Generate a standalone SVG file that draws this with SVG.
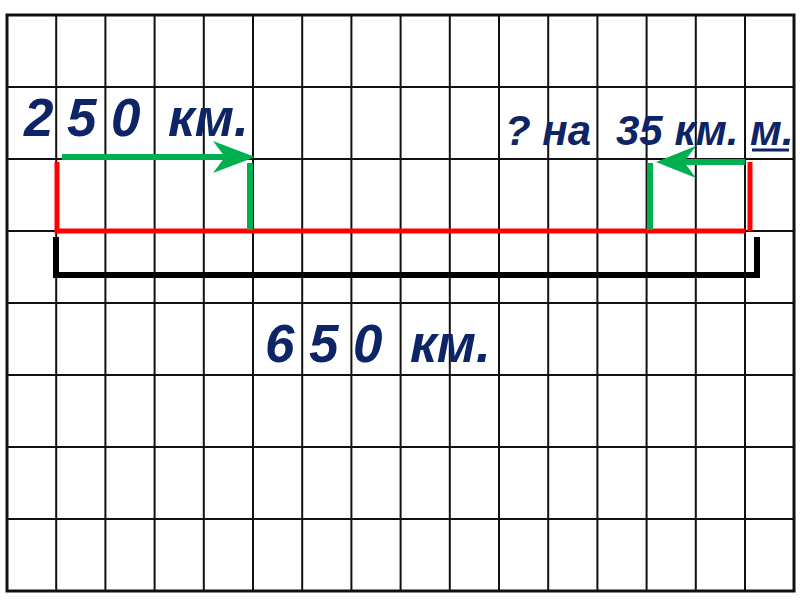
<svg xmlns="http://www.w3.org/2000/svg" width="800" height="600" viewBox="0 0 800 600">
<style>
.grid{stroke:#111;stroke-width:2;fill:none}
.border{stroke:#111;stroke-width:3;fill:none}
.red{stroke:#ff0000;stroke-width:5;fill:none}
.green{stroke:#00b050;stroke-width:6;fill:none}
.gfill{fill:#00b050}
.black{stroke:#000;stroke-width:6;fill:none}
.lbl{font-family:"Liberation Sans",Arial,sans-serif;font-weight:bold;font-style:italic;fill:#0d2566}
</style>
<rect width="800" height="600" fill="#fff"/>
<g id="grid">
<path class="grid" d="M56.2 15V591M105.4 15V591M154.6 15V591M203.8 15V591M253 15V591M302.2 15V591M351.4 15V591M400.6 15V591M449.8 15V591M499 15V591M548.2 15V591M597.4 15V591M646.6 15V591M695.8 15V591M745 15V591M7 87H794M7 159H794M7 231H794M7 303H794M7 375H794M7 447H794M7 519H794"/>
<rect class="border" x="7" y="15" width="787" height="576"/>
</g>
<g id="connectors">
<path class="red" d="M57 162V231H745"/>
<path class="red" d="M750 162V231"/>
<path class="green" d="M250 163V230"/>
<path class="green" d="M650 163V230"/>
<path class="green" d="M62 157H232"/>
<path class="gfill" d="M255 157L213 141L225 157L213 173Z"/>
<path class="green" d="M745 162H676"/>
<path class="gfill" d="M656 162L696 146L684 162L696 178Z"/>
<path class="black" d="M56 237V275H757V237"/>
</g>
<g id="label-250">
<text class="lbl" x="24" y="136" font-size="53">2</text>
<text class="lbl" x="67" y="136" font-size="53">5</text>
<text class="lbl" x="111" y="136" font-size="53">0</text>
<text class="lbl" x="168" y="136" font-size="53">км.</text>
</g>
<g id="label-question">
<text class="lbl" x="505" y="145" font-size="42">? на</text>
<text class="lbl" x="616" y="145" font-size="42">35 км.</text>
<text class="lbl" x="750" y="145" font-size="43">м.</text>
<path d="M752 150H789" stroke="#0d2566" stroke-width="3"/>
</g>
<g id="label-650">
<text class="lbl" x="265" y="362" font-size="53">6</text>
<text class="lbl" x="309" y="362" font-size="53">5</text>
<text class="lbl" x="353" y="362" font-size="53">0</text>
<text class="lbl" x="410" y="362" font-size="53">км.</text>
</g>
</svg>
